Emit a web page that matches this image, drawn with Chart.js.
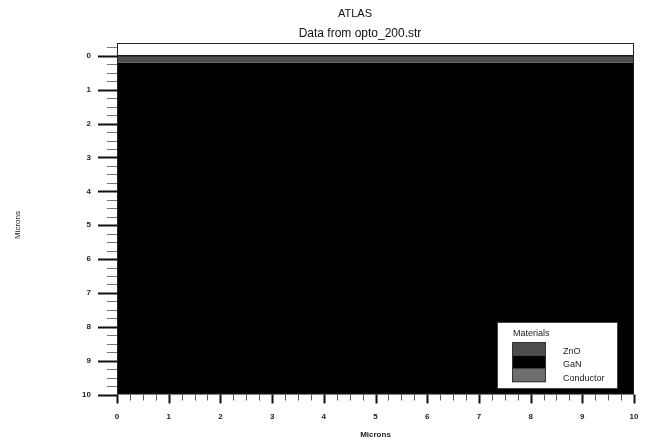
<!DOCTYPE html>
<html>
<head>
<meta charset="utf-8">
<script src="https://cdn.jsdelivr.net/npm/chart.js@4.4.0/dist/chart.umd.min.js"></script>
<style>
	html, body { margin: 0; padding: 0; background: #fff; }
</style>
</head>
<body>
<canvas id="mycanvas" width="650" height="443"></canvas>
<script>
// layers in the structure (microns, depth grows downward)
var layerNames = ['ZnO', 'GaN'];
var layerTop = [0, 0.2];
var layerBottom = [0.2, 10];
var layerColors = ['#4d4d4d', '#000000'];

// legend entries
var legendNames = ['ZnO', 'GaN', 'Conductor'];
var legendColors = ['#4d4d4d', '#000000', '#6e6e6e'];

// axes
var xRange = [0, 10];
var yRange = [-0.38, 10];
var xTicks = [0, 1, 2, 3, 4, 5, 6, 7, 8, 9, 10];
var yTicks = [0, 1, 2, 3, 4, 5, 6, 7, 8, 9, 10];
var minorStep = 0.25;

var titleText = 'ATLAS';
var subtitleText = 'Data from opto_200.str';
var axisTitle = 'Microns';

var fontFamily = "'Liberation Sans', Arial, sans-serif";

var datasets = layerNames.map(function(name, i) {
	return {
		label: name,
		data: [{x: xRange[0], y: layerTop[i]}, {x: xRange[1], y: layerTop[i]}],
		fill: {value: layerBottom[i]},
		backgroundColor: layerColors[i],
		borderColor: i === 0 ? '#151515' : layerColors[i],
		borderWidth: i === 0 ? 1.5 : 0,
		pointRadius: 0,
		tension: 0
	};
});

// titles, frame, tick marks and the materials box
var decor = {
	id: 'decor',
	afterDraw: function(chart) {
		var ctx = chart.ctx;
		var a = chart.chartArea;
		var xs = chart.scales.x;
		var ys = chart.scales.y;
		ctx.save();

		ctx.fillStyle = '#111';
		ctx.textAlign = 'center';
		ctx.textBaseline = 'middle';
		ctx.font = '11px ' + fontFamily;
		ctx.fillText(titleText, 355, 14);
		ctx.font = '12px ' + fontFamily;
		ctx.fillText(subtitleText, 360, 34);

		// y axis title
		ctx.save();
		ctx.translate(18, 225);
		ctx.rotate(-Math.PI / 2);
		ctx.fillStyle = '#222';
		ctx.font = '8px ' + fontFamily;
		ctx.fillText(axisTitle, 0, 0);
		ctx.restore();

		ctx.strokeStyle = '#222';
		ctx.lineWidth = 1;
		ctx.strokeRect(a.left + 0.5, a.top + 0.5, a.right - a.left - 1, a.bottom - a.top - 1);

		// y ticks
		for (var v = -minorStep; v <= yRange[1] + 0.001; v += minorStep) {
			if (v < yRange[0]) continue;
			var major = Math.abs(v - Math.round(v)) < 0.001;
			var py = Math.round(ys.getPixelForValue(v)) + 0.5;
			ctx.beginPath();
			ctx.strokeStyle = major ? '#111' : '#777';
			ctx.lineWidth = major ? 2 : 1;
			ctx.moveTo(a.left - (major ? 19 : 10), py);
			ctx.lineTo(a.left, py);
			ctx.stroke();
		}
		// x ticks
		for (var u = xRange[0]; u <= xRange[1] + 0.001; u += minorStep) {
			var majorX = Math.abs(u - Math.round(u)) < 0.001;
			var px = Math.round(xs.getPixelForValue(u)) + 0.5;
			ctx.beginPath();
			ctx.strokeStyle = majorX ? '#111' : '#555';
			ctx.lineWidth = majorX ? 2 : 1;
			ctx.moveTo(px, a.bottom);
			ctx.lineTo(px, a.bottom + (majorX ? 9 : 6));
			ctx.stroke();
		}

		// materials box
		var bx = a.right - 137, by = a.bottom - 72.5;
		ctx.fillStyle = '#fff';
		ctx.fillRect(bx, by, 121, 67);
		ctx.strokeStyle = '#444';
		ctx.lineWidth = 1;
		ctx.strokeRect(bx + 0.5, by + 0.5, 120, 66);

		ctx.fillStyle = '#222';
		ctx.font = '9px ' + fontFamily;
		ctx.textAlign = 'left';
		ctx.fillText('Materials', bx + 16, by + 12);

		var sy = by + 20, sh = 13.4;
		legendNames.forEach(function(name, i) {
			ctx.fillStyle = legendColors[i];
			ctx.fillRect(bx + 15, sy + i * sh, 34, sh);
			ctx.fillStyle = '#222';
			ctx.fillText(name, bx + 66, sy + i * sh + 9.5);
		});
		ctx.strokeStyle = '#333';
		ctx.strokeRect(bx + 15.5, sy + 0.5, 33, sh * legendNames.length - 1);

		ctx.restore();
	}
};

var ctx = document.getElementById('mycanvas');

var structChart = new Chart(ctx, {
	type: 'line',
	data: {datasets: datasets},
	options: {
		responsive: false,
		devicePixelRatio: 1,
		animation: false,
		layout: {padding: {left: 0, right: 16, top: 43, bottom: 0}},
		plugins: {
			legend: {display: false},
			tooltip: {enabled: false},
			title: {display: false}
		},
		scales: {
			x: {
				type: 'linear',
				min: xRange[0],
				max: xRange[1],
				afterBuildTicks: function(s) {
					s.ticks = xTicks.map(function(v) { return {value: v}; });
				},
				afterFit: function(s) {
					s.height = 48.5;
					s.paddingLeft = 0;
					s.paddingRight = 0;
				},
				grid: {display: false, drawTicks: false},
				border: {display: false},
				ticks: {
					padding: 17,
					maxRotation: 0,
					autoSkip: false,
					color: '#222',
					font: {family: fontFamily, size: 8, weight: 'bold'}
				},
				title: {
					display: true,
					text: axisTitle,
					color: '#222',
					font: {family: fontFamily, size: 8, weight: 'bold'},
					padding: {top: 0, bottom: 3}
				}
			},
			y: {
				type: 'linear',
				reverse: true,
				min: yRange[0],
				max: yRange[1],
				afterBuildTicks: function(s) {
					s.ticks = yTicks.map(function(v) { return {value: v}; });
				},
				afterFit: function(s) {
					s.width = 117;
					s.paddingTop = 0;
					s.paddingBottom = 0;
				},
				grid: {display: false, drawTicks: false},
				border: {display: false},
				ticks: {
					padding: 26,
					autoSkip: false,
					color: '#222',
					font: {family: fontFamily, size: 8, weight: 'bold'}
				}
			}
		}
	},
	plugins: [decor]
});
</script>
</body>
</html>
